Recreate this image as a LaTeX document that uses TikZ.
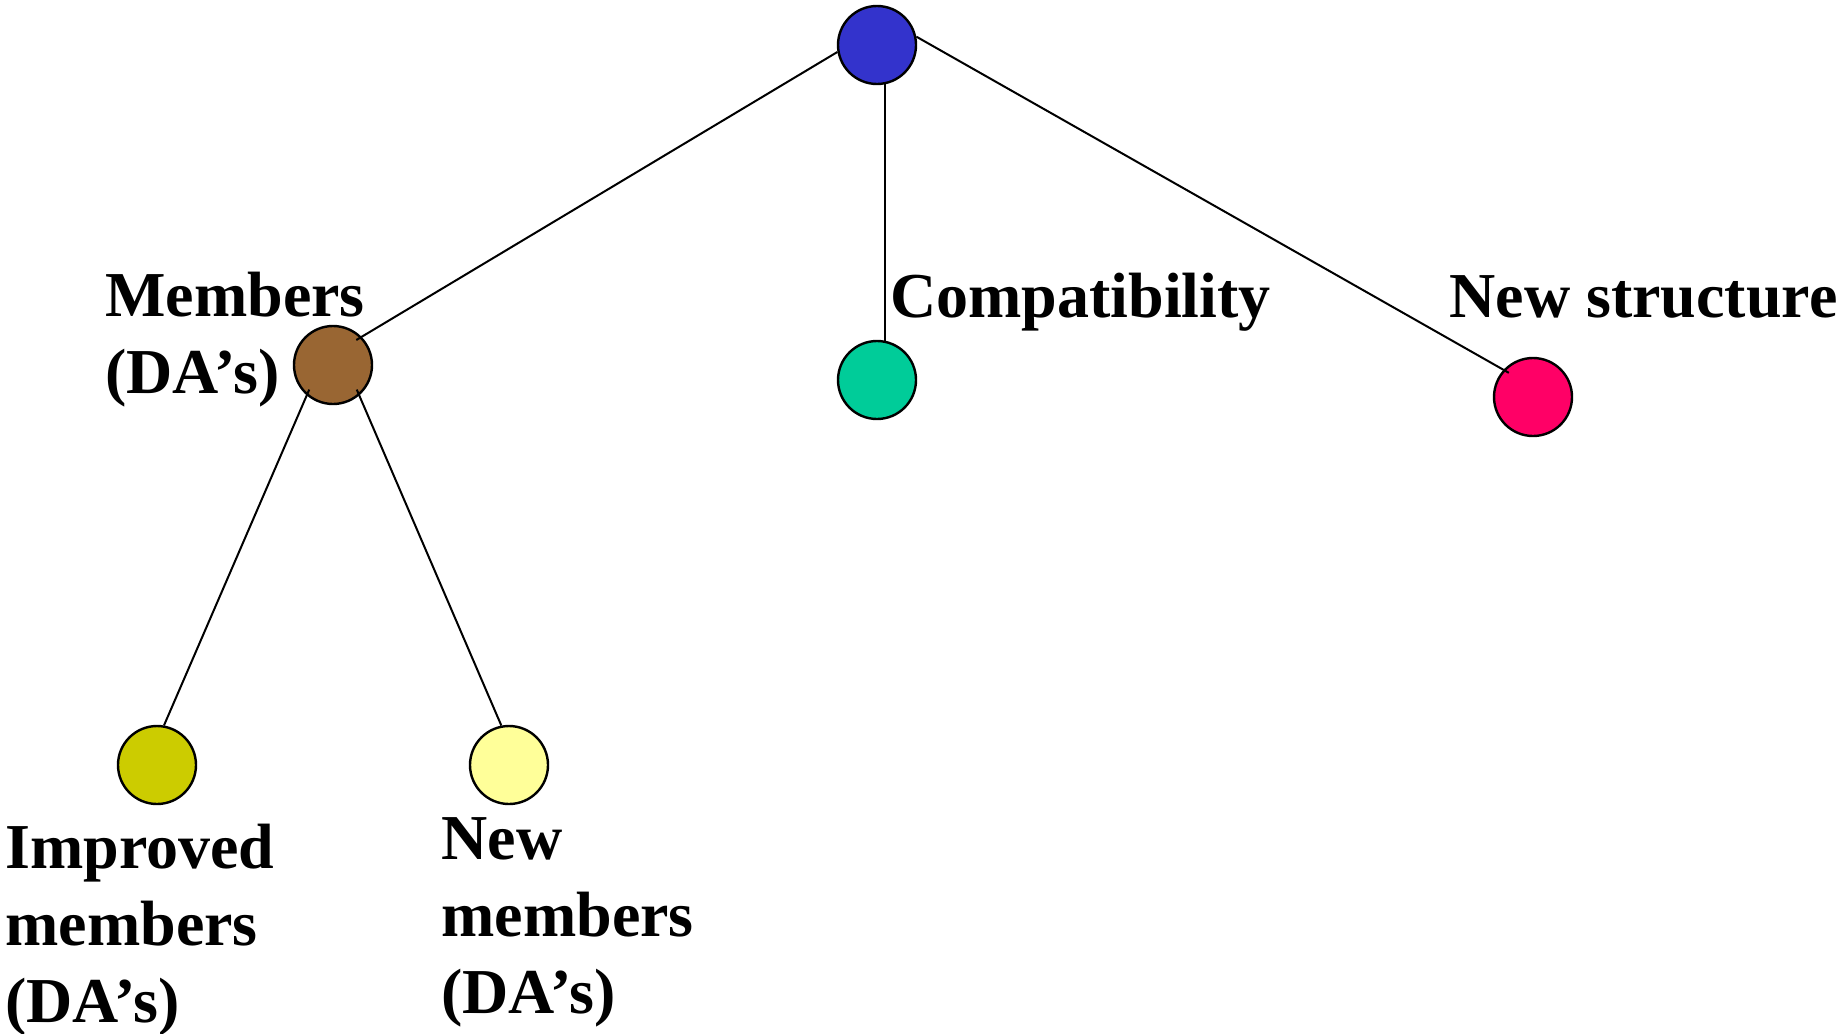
\documentclass[tikz,border=0pt]{standalone}
\usepackage{fontspec}
\setmainfont{Liberation Serif}
\usepackage{xcolor}
\usetikzlibrary{calc}
\definecolor{cRoot}{HTML}{3333CC}
\definecolor{cMem}{HTML}{996633}
\definecolor{cComp}{HTML}{00CC99}
\definecolor{cStruct}{HTML}{FF0066}
\definecolor{cImpr}{HTML}{CCCC00}
\definecolor{cNewMem}{HTML}{FFFF99}
\tikzset{
  ball/.style={circle,draw=black,line width=1.2pt,minimum size=39pt,inner sep=0pt},
  link/.style={line width=1pt},
  lbl/.style={font=\fontsize{32}{38.5}\selectfont\bfseries,align=left,inner sep=0pt,anchor=base west}}

\begin{document}
\begin{tikzpicture}[x=0.5pt,y=-0.5pt]
\useasboundingbox (0,0) rectangle (1845,1033);
\node[ball,fill=cRoot] (root) at (877,45) {};
\node[ball,fill=cMem] (members) at (333,365) {};
\node[ball,fill=cComp] (compat) at (877,380) {};
\node[ball,fill=cStruct] (newstruct) at (1533,397) {};
\node[ball,fill=cImpr] (improved) at (157,765) {};
\node[ball,fill=cNewMem] (newmem) at (509,765) {};
\node[lbl] (tMembers) at (105,393) {Members\\(DA’s)};
\node[lbl] (tCompat) at (890,317) {Compatibility};
\node[lbl] (tStruct) at (1449,317) {New structure};
\node[lbl] (tImproved) at (5,1022) {Improved\\members\\(DA’s)};
\node[lbl] (tNewMem) at (441,1013) {New\\members\\(DA’s)};
\draw[link] (root.190) -- ($(members)!.85!(members.47)$);
\draw[link] (root.281) -- (compat.79);
\draw[link] (root.12) -- ($(newstruct)!.85!(newstruct.135)$);
\draw[link] ($(members)!.85!(members.226)$) -- (improved.80);
\draw[link] ($(members)!.85!(members.314)$) -- (newmem.101);
\end{tikzpicture}
\end{document}
